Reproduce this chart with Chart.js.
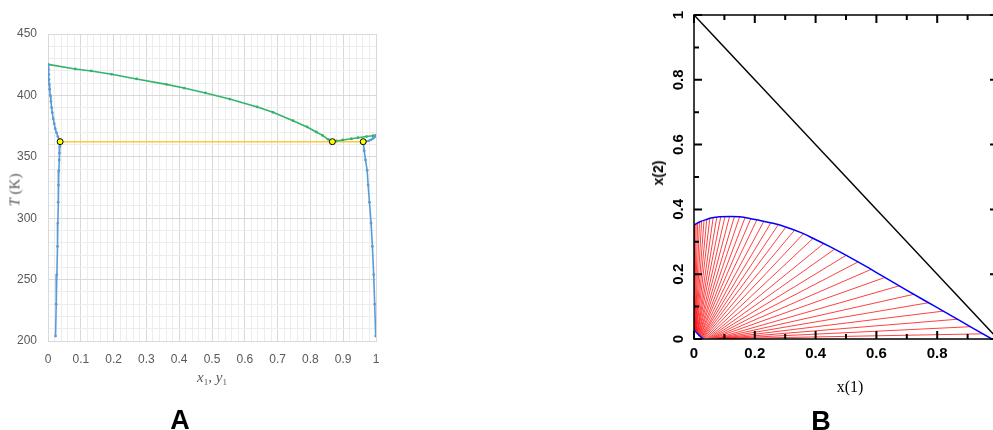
<!DOCTYPE html>
<html>
<head>
<meta charset="utf-8">
<script src="https://cdn.jsdelivr.net/npm/chart.js@4.4.1/dist/chart.umd.min.js"></script>
<style>
  html, body { margin: 0; padding: 0; background: #fff; overflow: hidden; }
  #page { position: relative; width: 993px; height: 430px; overflow: hidden; font-family: "Liberation Sans", Arial, sans-serif; }
  #chartA { position: absolute; left: 0; top: 0; }
  #chartB { position: absolute; left: 600px; top: 0; }
  .lbl { position: absolute; white-space: nowrap; transform: translate(-50%, -50%); line-height: 1; }
  .serif { font-family: "Liberation Serif", "DejaVu Serif", serif; color: #595959; font-size: 15px; }
  .serif sub { font-size: 9px; vertical-align: -3px; }
  .panel { font-weight: bold; font-size: 27px; color: #000; }
</style>
</head>
<body>
<div id="page">
  <canvas id="chartA" width="400" height="430"></canvas>
  <canvas id="chartB" width="420" height="430"></canvas>

  <div class="lbl serif" style="left:15px; top:190px; transform: translate(-50%, -50%) rotate(-90deg);"><i>T</i> (K)</div>
  <div class="lbl serif" style="left:212px; top:378px;"><i>x</i><sub>1</sub>, <i>y</i><sub>1</sub></div>
  <div class="lbl panel" style="left:180px; top:420px;">A</div>

  <div class="lbl" style="left:658px; top:173px; font: bold 14px 'Liberation Sans', Arial, sans-serif; transform: translate(-50%, -50%) rotate(-90deg);">x(2)</div>
  <div class="lbl" style="left:850px; top:387px; font: 16px 'Liberation Serif', 'DejaVu Serif', serif;">x(1)</div>
  <div class="lbl panel" style="left:821px; top:421px;">B</div>
</div>

<script>
// ---- panel A: T-x-y diagram ----
const aXLabels = [0, 0.1, 0.2, 0.3, 0.4, 0.5, 0.6, 0.7, 0.8, 0.9, 1];
const aYLabels = [200, 250, 300, 350, 400, 450];

// liquid branch near x1 = 0 (top to bottom)
const liqLeftX = [0, 0.001, 0.002, 0.003, 0.004, 0.005, 0.007, 0.009, 0.011, 0.013, 0.016, 0.019, 0.022, 0.026, 0.030, 0.034, 0.037,
                  0.036, 0.035, 0.034, 0.033, 0.032, 0.031, 0.030, 0.029, 0.027, 0.025, 0.023];
const liqLeftT = [425, 421, 417, 413, 409, 405, 400, 395, 390, 386, 381, 377, 373, 369.5, 366.5, 364, 362.3,
                  358.3, 353, 347.4, 338.7, 327, 313, 296, 277, 254, 230, 204];

// liquid branch near x1 = 1
const liqRightX = [1, 0.996, 0.991, 0.985, 0.978, 0.970, 0.961,
                   0.964, 0.968, 0.973, 0.976, 0.980, 0.985, 0.989, 0.993, 0.996, 0.999];
const liqRightT = [367.5, 366.3, 365, 363.8, 363, 362.6, 362.3,
                   355, 347.4, 339, 327, 313, 296, 277, 254, 230, 204];

// vapour curve
const vapX = [0, 0.083, 0.132, 0.194, 0.27, 0.361, 0.415, 0.48, 0.554, 0.638, 0.686, 0.747, 0.79, 0.818, 0.837, 0.854, 0.867,
              0.879, 0.899, 0.925, 0.945, 0.971, 0.991, 1];
const vapT = [425.3, 421.5, 419.9, 417.2, 413.4, 409, 406, 402, 397, 390.6, 386.2, 379.4, 374.3, 370.2, 367.5, 364.2, 362.3,
              362.9, 363.7, 364.7, 365.5, 366.5, 367.2, 367.5];

// three-phase points
const tpX = [0.037, 0.867, 0.961];
const tpT = [362.3, 362.3, 362.3];

// ---- panel B: ternary LLE in x(1), x(2) ----
const bMajorTicks = [0, 0.2, 0.4, 0.6, 0.8, 1];
const bTickLabels = ['0', '0.2', '0.4', '0.6', '0.8', '1'];
const bMinorTicks = [0.1, 0.3, 0.5, 0.7, 0.9];

const diagX = [0, 1];
const diagY = [1, 0];

const upperX1 = [0, 0.02, 0.041, 0.06, 0.085, 0.12, 0.15, 0.18, 0.216, 0.26, 0.304, 0.35, 0.391, 0.447, 0.501, 0.56, 0.622, 0.699, 0.76, 0.82, 0.9, 0.98];
const upperX2 = [0.352, 0.362, 0.369, 0.374, 0.377, 0.378, 0.377, 0.373, 0.366, 0.357, 0.345, 0.329, 0.311, 0.285, 0.258, 0.227, 0.193, 0.151, 0.118, 0.086, 0.043, 0];

const lowerX1 = [0, 0.008, 0.016, 0.024, 0.03];
const lowerX2 = [0.028, 0.020, 0.012, 0.005, 0];

// tie lines: top end on the upper curve, bottom end near the origin
const tieTopX1 = [0, 0.003, 0.007, 0.012, 0.018, 0.025, 0.033, 0.042, 0.052, 0.063, 0.075, 0.088, 0.102, 0.117, 0.133, 0.150, 0.168, 0.187, 0.207, 0.229,
                  0.252, 0.276, 0.302, 0.330, 0.360, 0.392, 0.426, 0.462, 0.500, 0.540, 0.583, 0.628, 0.675, 0.723, 0.772, 0.820, 0.866, 0.910, 0.950];
const tieTopX2 = [0.352, 0.354, 0.356, 0.359, 0.362, 0.365, 0.367, 0.370, 0.372, 0.374, 0.376, 0.377, 0.378, 0.378, 0.378, 0.377, 0.375, 0.372, 0.368, 0.362,
                  0.357, 0.351, 0.345, 0.335, 0.325, 0.311, 0.294, 0.277, 0.258, 0.238, 0.215, 0.190, 0.164, 0.138, 0.112, 0.086, 0.061, 0.038, 0.016];
const tieBotX1 = [0, 0.001, 0.002, 0.003, 0.004, 0.005, 0.006, 0.007, 0.008, 0.010, 0.011, 0.012, 0.014, 0.015, 0.017, 0.018, 0.020, 0.021, 0.023, 0.025,
                  0.026, 0.028, 0.030, 0.033, 0.036, 0.040, 0.044, 0.048, 0.052, 0.056, 0.060, 0.064, 0.068, 0.072, 0.076, 0.080, 0.084, 0.088, 0.092];
const tieBotX2 = [0.030, 0.029, 0.028, 0.027, 0.026, 0.025, 0.024, 0.023, 0.022, 0.020, 0.019, 0.018, 0.016, 0.015, 0.013, 0.012, 0.010, 0.009, 0.007, 0.006,
                  0.005, 0.004, 0.003, 0.003, 0.002, 0.002, 0.002, 0.002, 0.002, 0.002, 0.002, 0.002, 0.001, 0.001, 0.001, 0.001, 0.001, 0.001, 0.001];

const pts = (xs, ys) => xs.map((x, i) => ({ x: x, y: ys[i] }));

const BLUE = '#5B9BD5';
const GREEN = '#33B36B';
const MAJOR = '#D9D9D9';
const MINOR = '#EDEDED';
const tickFont = { family: '"Liberation Sans", Arial, sans-serif', size: 12 };

function isLabel(list, v) {
  return list.some(l => Math.abs(l - v) < 1e-6);
}

new Chart(document.getElementById('chartA'), {
  type: 'scatter',
  data: {
    datasets: [
      { data: pts(tpX, tpT), showLine: false, pointRadius: 3, pointBorderWidth: 1,
        pointBackgroundColor: '#FFFF00', pointBorderColor: '#000' },
      { data: pts(liqLeftX, liqLeftT), showLine: true, borderColor: BLUE, borderWidth: 1.6,
        pointRadius: 1.4, pointBorderWidth: 0, pointBackgroundColor: BLUE },
      { data: pts(liqRightX, liqRightT), showLine: true, borderColor: BLUE, borderWidth: 1.6,
        pointRadius: 1.4, pointBorderWidth: 0, pointBackgroundColor: BLUE },
      { data: pts(vapX, vapT), showLine: true, borderColor: GREEN, borderWidth: 1.6,
        pointRadius: 1.4, pointBorderWidth: 0, pointBackgroundColor: GREEN },
      { data: pts([tpX[0], tpX[2]], [tpT[0], tpT[2]]), showLine: true, borderColor: '#FFC83D', borderWidth: 1.5,
        pointRadius: 0 }
    ]
  },
  options: {
    responsive: false,
    animation: false,
    layout: { padding: { top: 34, right: 24, bottom: 59, left: 0 } },
    plugins: { legend: { display: false }, tooltip: { enabled: false } },
    scales: {
      x: {
        type: 'linear', min: 0, max: 1,
        afterFit: s => { s.height = 30; },
        border: { color: MAJOR },
        grid: { drawTicks: false, color: c => isLabel(aXLabels, c.tick.value) ? MAJOR : MINOR },
        ticks: {
          stepSize: 0.02, autoSkip: false, maxRotation: 0, padding: 11,
          color: '#595959', font: tickFont,
          callback: v => isLabel(aXLabels, v) ? String(Math.round(v * 10) / 10) : ''
        }
      },
      y: {
        type: 'linear', min: 200, max: 450,
        afterFit: s => { s.width = 48; },
        border: { color: MAJOR },
        grid: { drawTicks: false, color: c => isLabel(aYLabels, c.tick.value) ? MAJOR : MINOR },
        ticks: {
          stepSize: 10, autoSkip: false, padding: 11,
          color: '#595959', font: tickFont,
          callback: v => isLabel(aYLabels, v) ? String(v) : ''
        }
      }
    }
  }
});

// frame with inward ticks and rotated y labels, drawn from the scales
const frameB = {
  id: 'frameB',
  afterDraw(chart) {
    const { ctx, chartArea: a, scales: { x, y } } = chart;
    ctx.save();
    ctx.strokeStyle = '#000';
    ctx.lineWidth = 1.5;
    ctx.strokeRect(a.left, a.top, a.right - a.left, a.bottom - a.top);
    ctx.lineWidth = 2;
    const mark = (v, len) => {
      const px = x.getPixelForValue(v);
      const py = y.getPixelForValue(v);
      ctx.beginPath();
      ctx.moveTo(px, a.bottom); ctx.lineTo(px, a.bottom - len);
      ctx.moveTo(px, a.top); ctx.lineTo(px, a.top + len);
      ctx.moveTo(a.left, py); ctx.lineTo(a.left + len, py);
      ctx.moveTo(a.right, py); ctx.lineTo(a.right - len, py);
      ctx.stroke();
    };
    bMinorTicks.forEach(v => mark(v, 5));
    bMajorTicks.forEach(v => mark(v, 8));

    ctx.fillStyle = '#000';
    ctx.font = 'bold 15px "Liberation Sans", Arial, sans-serif';
    ctx.textAlign = 'center';
    ctx.textBaseline = 'middle';
    bMajorTicks.forEach((v, i) => {
      ctx.fillText(bTickLabels[i], x.getPixelForValue(v), a.bottom + 15);
      ctx.save();
      ctx.translate(a.left - 15, y.getPixelForValue(v));
      ctx.rotate(-Math.PI / 2);
      ctx.fillText(bTickLabels[i], 0, 0);
      ctx.restore();
    });
    ctx.restore();
  }
};

const tieSets = tieTopX1.map((x1, i) => ({
  data: pts([x1, tieBotX1[i]], [tieTopX2[i], tieBotX2[i]]),
  showLine: true, borderColor: 'rgba(255,0,0,0.75)', borderWidth: 1, pointRadius: 0
}));

new Chart(document.getElementById('chartB'), {
  type: 'scatter',
  data: {
    datasets: [
      { data: pts(diagX, diagY), showLine: true, borderColor: '#000', borderWidth: 1.5, pointRadius: 0 },
      { data: pts(upperX1, upperX2), showLine: true, borderColor: '#0000FF', borderWidth: 1.5, pointRadius: 0,
        cubicInterpolationMode: 'monotone' },
      { data: pts(lowerX1, lowerX2), showLine: true, borderColor: '#0000FF', borderWidth: 1.5, pointRadius: 0 },
      ...tieSets
    ]
  },
  options: {
    responsive: false,
    animation: false,
    layout: { padding: { top: 15, right: 22, bottom: 91, left: 94 } },
    plugins: { legend: { display: false }, tooltip: { enabled: false } },
    scales: {
      x: { type: 'linear', min: 0, max: 1, display: false },
      y: { type: 'linear', min: 0, max: 1, display: false }
    }
  },
  plugins: [frameB]
});
</script>
</body>
</html>
